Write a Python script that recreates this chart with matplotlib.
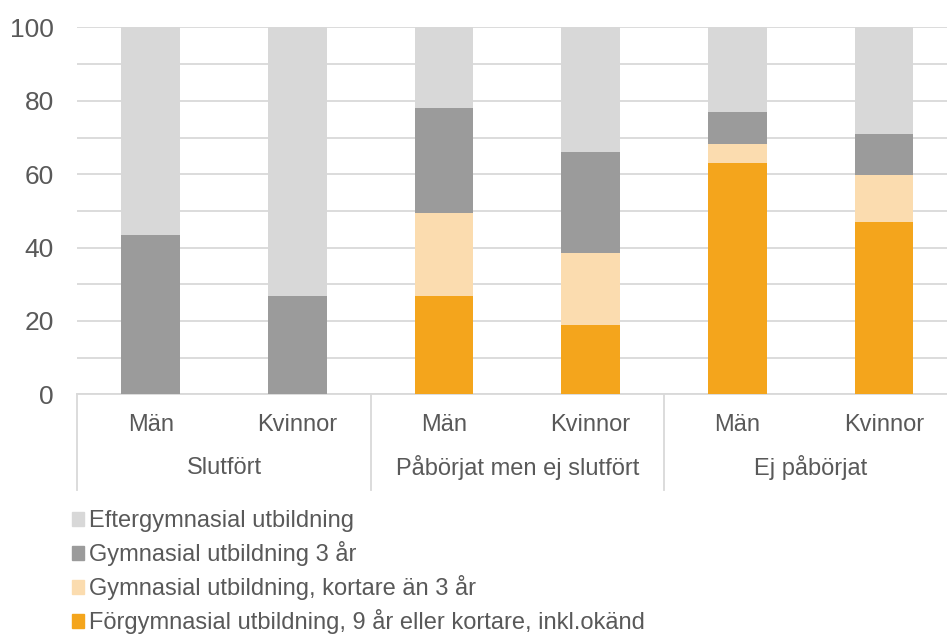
import matplotlib
matplotlib.use('Agg')
import matplotlib.pyplot as plt
from matplotlib.patches import Patch
import numpy as np

plt.rcParams['font.family'] = ['Liberation Sans', 'DejaVu Sans']

# Data (percent)
groups = ["Slutfört", "Påbörjat men ej slutfört", "Ej påbörjat"]
sexes = ["Män", "Kvinnor"]
forgymnasial = [0, 0, 26.8, 18.9, 63.1, 47.0]
gymn_kort = [0, 0, 22.5, 19.7, 5.0, 12.7]
gymn_3ar = [43.4, 26.8, 28.7, 27.4, 8.8, 11.2]
eftergymn = [56.6, 73.2, 22.0, 34.0, 23.1, 29.1]

series_names = [
    "Förgymnasial utbildning, 9 år eller kortare, inkl.okänd",
    "Gymnasial utbildning, kortare än 3 år",
    "Gymnasial utbildning 3 år",
    "Eftergymnasial utbildning",
]
colors = ["#f4a51c", "#fbdcaf", "#9b9b9b", "#d8d8d8"]
text_col = "#595959"

fig = plt.figure(figsize=(9.47, 6.39), dpi=100)
ax = fig.add_axes([0.0818, 0.383, 0.929, 0.574])

x = np.arange(6)
bottom = np.zeros(6)
for vals, col in zip([forgymnasial, gymn_kort, gymn_3ar, eftergymn], colors):
    ax.bar(x, vals, width=0.4, bottom=bottom, color=col, zorder=3)
    bottom += np.array(vals)

ax.set_xlim(-0.5, 5.5)
ax.set_ylim(0, 100)
ax.set_yticks(range(0, 101, 20))
ax.set_yticks(range(0, 101, 10), minor=True)
ax.tick_params(axis='y', which='both', length=0, labelsize=19, labelcolor=text_col, pad=17)
ax.grid(axis='y', which='both', color='#d9d9d9', linewidth=1.3, zorder=0)
ax.set_xticks([])
for s in ['top', 'right', 'left']:
    ax.spines[s].set_visible(False)
ax.spines['bottom'].set_color('#d9d9d9')
ax.spines['bottom'].set_linewidth(1.3)

trans = ax.get_xaxis_transform()
for i in range(6):
    ax.text(i, -0.083, sexes[i % 2], transform=trans, ha='center', va='center',
            fontsize=17, color=text_col)
for g, name in enumerate(groups):
    ax.text(2 * g + 0.5, -0.2, name, transform=trans, ha='center', va='center',
            fontsize=17, color=text_col)
for b in [-0.5, 1.5, 3.5, 5.5]:
    ax.plot([b, b], [0, -0.261], transform=trans, color='#d9d9d9', lw=1.3, clip_on=False)

handles = [Patch(color=c) for c in colors[::-1]]
leg = fig.legend(handles, series_names[::-1], loc='upper left', bbox_to_anchor=(0.066, 0.216),
                 frameon=False, fontsize=17, handlelength=0.51, handleheight=0.51,
                 handletextpad=0.21, labelspacing=0.38, borderaxespad=0)
for t in leg.get_texts():
    t.set_color(text_col)

fig.savefig("out.png", dpi=100)
